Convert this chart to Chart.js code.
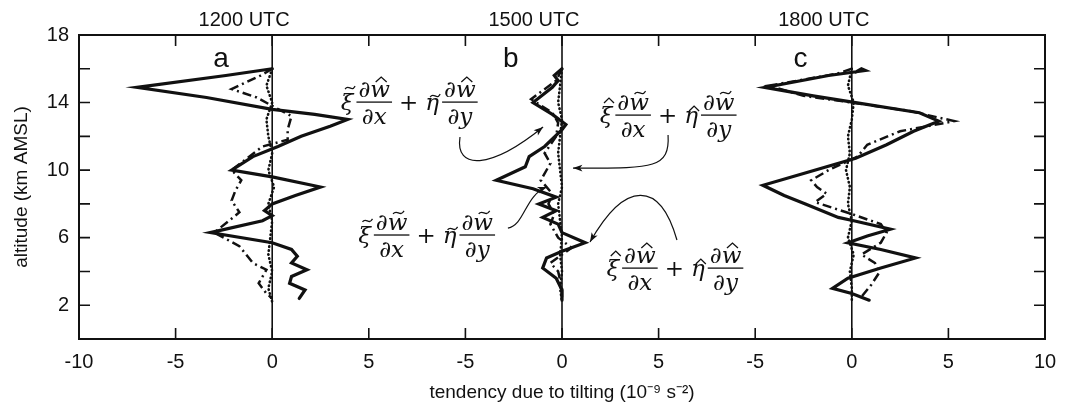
<!DOCTYPE html>
<html>
<head>
<meta charset="utf-8">
<script src="https://cdn.jsdelivr.net/npm/chart.js@4.4.1/dist/chart.umd.min.js"></script>
<style>
  html, body { margin: 0; background: #fff; }
  #wrap { width: 1070px; height: 408px; }
</style>
</head>
<body>
<div id="wrap"><canvas id="chart" width="1070" height="408"></canvas></div>
<script>
// tick labels along the shared x axis (three panels side by side)
const xTickLabels = ["-10", "-5", "0", "5", "-5", "0", "5", "-5", "0", "5", "10"];
const yTickLabels = [2, 6, 10, 14, 18];
const panelTitles = ["1200 UTC", "1500 UTC", "1800 UTC"];
const panelLetters = ["a", "b", "c"];
const panelOffsets = [0, 15, 30];

// panel a (1200 UTC)
const altSolidA = [16.0, 15.6, 14.9, 14.3, 13.6, 13.3, 13.0, 12.6, 12.0, 11.4, 10.8, 10.0, 9.6, 9.0, 8.5, 8.0, 7.6, 7.3, 7.0, 6.3, 5.7, 5.3, 4.9, 4.5, 4.1, 3.7, 3.3, 2.9, 2.4];
const solidA = [0.0, -2.4, -7.0, -3.4, 0.0, 2.2, 3.9, 3.0, 1.5, 0.3, -1.0, -2.1, 0.0, 2.5, 1.2, 0.0, -0.4, 0.0, -0.5, -3.2, 0.0, 1.0, 1.3, 1.0, 1.8, 1.0, 0.9, 1.7, 1.4];
const altDashA = [16.0, 15.6, 14.8, 14.3, 13.8, 13.2, 12.4, 11.8, 11.4, 10.0, 9.4, 8.8, 8.2, 7.5, 6.3, 5.5, 4.5, 4.1, 3.3, 2.7, 2.4];
const dashA = [0.0, -0.6, -2.1, -0.8, 0.0, 1.0, 0.8, 0.8, -0.5, -2.1, -1.6, -1.9, -2.1, -1.7, -3.0, -1.7, -1.0, -0.3, -0.7, -0.3, 0.0];
const altDotA = [16.0, 15.0, 14.0, 13.0, 12.0, 11.0, 10.0, 9.0, 8.0, 7.0, 6.0, 5.0, 4.0, 3.0, 2.2];
const dotA = [0.0, -0.3, 0.0, -0.3, -0.2, 0.0, -0.2, 0.1, -0.2, 0.0, -0.1, -0.2, 0.0, -0.2, 0.0];

// panel b (1500 UTC)
const altSolidB = [16.0, 15.6, 15.3, 14.9, 14.0, 13.3, 12.7, 12.4, 11.4, 10.8, 10.2, 9.4, 8.9, 8.4, 8.0, 7.6, 7.2, 6.8, 6.3, 5.7, 5.2, 4.8, 4.2, 3.6, 2.9, 2.3];
const solidB = [0.0, -0.4, -0.2, -0.5, -1.5, -0.5, 0.2, 0.0, -0.9, -1.7, -1.9, -3.4, -1.5, -0.3, -1.2, -0.3, -1.0, -0.2, 0.0, 1.2, 0.0, -0.8, -1.0, -0.3, 0.0, 0.0];
const altDashB = [16.0, 15.3, 14.2, 13.4, 12.8, 12.0, 11.0, 10.4, 9.4, 8.6, 8.0, 7.4, 6.8, 6.0, 5.4, 4.5, 4.0, 3.0, 2.3];
const dashB = [0.0, -0.3, -1.6, -0.5, -0.2, -0.3, -0.9, -0.6, -1.1, -0.5, -0.7, -0.4, -0.6, -0.2, 0.5, -0.6, -0.2, 0.0, 0.0];
const altDotB = [16.0, 15.0, 14.0, 13.0, 12.0, 11.0, 10.0, 9.0, 8.0, 7.0, 6.0, 5.0, 4.0, 3.0, 2.2];
const dotB = [0.0, -0.1, -0.2, 0.0, -0.1, -0.2, -0.1, 0.0, -0.2, -0.1, 0.0, -0.1, 0.0, -0.1, 0.0];

// panel c (1800 UTC)
const altSolidC = [15.8, 16.0, 15.9, 15.6, 14.9, 14.4, 14.0, 13.4, 12.9, 12.3, 11.5, 10.7, 9.8, 9.1, 8.5, 8.0, 7.2, 7.0, 6.5, 6.1, 5.7, 5.3, 4.8, 4.2, 3.6, 3.0, 2.7, 2.3];
const solidC = [0.2, 0.5, 0.7, -1.2, -4.5, -2.0, 0.2, 3.5, 4.5, 3.2, 1.8, 0.2, -2.5, -4.6, -3.5, -2.4, -0.7, 0.1, 2.0, 0.8, -0.2, 1.5, 3.3, 1.5, -0.2, -1.0, 0.0, 0.9];
const altDashC = [16.0, 15.7, 15.0, 14.4, 14.0, 13.5, 12.9, 12.3, 11.5, 10.8, 10.0, 9.4, 9.0, 8.6, 8.1, 7.4, 6.8, 6.3, 5.7, 5.0, 4.5, 3.9, 3.2, 2.5];
const dashC = [0.0, -0.8, -4.3, -2.5, 0.0, 3.0, 5.3, 2.5, 0.8, 0.3, -1.2, -2.1, -1.8, -1.3, -1.9, 0.0, 1.5, 1.8, 1.5, 0.5, 1.2, 1.4, 1.0, 0.5];
const altDotC = [16.0, 15.0, 14.0, 13.0, 12.0, 11.0, 10.0, 9.0, 8.0, 7.0, 6.0, 5.0, 4.0, 3.0, 2.2];
const dotC = [0.0, -0.2, 0.1, 0.0, -0.2, -0.1, -0.3, -0.1, -0.2, 0.0, -0.2, 0.1, -0.1, 0.0, 0.0];

const INK = "#111";
const SANS = '"Liberation Sans", Arial, sans-serif';
const SERIF = '"DejaVu Serif", "Liberation Serif", serif';

const lineStyles = {
  solid: { borderWidth: 3.2, borderDash: [], borderCapStyle: "round" },
  dash: { borderWidth: 2.5, borderDash: [9, 4, 2, 4], borderCapStyle: "butt" },
  dot: { borderWidth: 2.6, borderDash: [0.5, 3.5], borderCapStyle: "round" },
};

function series(alts, vals, offset, style) {
  return Object.assign({
    data: alts.map((a, i) => ({ x: vals[i] + offset, y: a })),
    showLine: true,
    borderColor: INK,
    pointRadius: 0,
    tension: 0,
    fill: false,
  }, lineStyles[style]);
}

const datasets = [
  series(altDotA, dotA, panelOffsets[0], "dot"),
  series(altDashA, dashA, panelOffsets[0], "dash"),
  series(altSolidA, solidA, panelOffsets[0], "solid"),
  series(altDotB, dotB, panelOffsets[1], "dot"),
  series(altDashB, dashB, panelOffsets[1], "dash"),
  series(altSolidB, solidB, panelOffsets[1], "solid"),
  series(altDotC, dotC, panelOffsets[2], "dot"),
  series(altDashC, dashC, panelOffsets[2], "dash"),
  series(altSolidC, solidC, panelOffsets[2], "solid"),
];

// annotation terms: [x (axis units), altitude of fraction bar, accent on xi/eta, accent on w]
const terms = [
  [3.55, 14.03, "tilde", "hat"],
  [4.45, 6.16, "tilde", "tilde"],
  [16.95, 13.26, "hat", "tilde"],
  [17.3, 4.2, "hat", "hat"],
];
// arrows: bezier start, control 1, control 2, end (axis units, km)
const arrows = [
  [[9.72, 11.96], [9.46, 10.0], [11.27, 10.0], [14.02, 12.55]],
  [[12.2, 6.57], [13.08, 6.75], [13.08, 8.53], [14.22, 9.0]],
  [[20.49, 12.08], [20.6, 10.0], [19.55, 10.12], [15.57, 10.12]],
  [[20.95, 5.86], [20.07, 9.41], [18.26, 9.41], [16.45, 5.74]],
];

function accent(ctx, kind, cx, cy, w) {
  ctx.save();
  ctx.lineWidth = 1.3;
  ctx.beginPath();
  if (kind === "hat") {
    ctx.moveTo(cx - w / 2, cy + 2);
    ctx.lineTo(cx, cy - 3);
    ctx.lineTo(cx + w / 2, cy + 2);
  } else {
    ctx.moveTo(cx - w / 2, cy + 1);
    ctx.bezierCurveTo(cx - w / 4, cy - 3, cx, cy + 1, cx + w / 4, cy + 0.5);
    ctx.bezierCurveTo(cx + w / 3, cy + 0.5, cx + w / 2.3, cy - 1, cx + w / 2, cy - 2);
  }
  ctx.stroke();
  ctx.restore();
}

function drawTerm(ctx, x, y, accSym, accW) {
  const it = "italic 23px " + SERIF;
  const up = "23px " + SERIF;
  let cx = x;
  ctx.fillStyle = INK;
  ctx.strokeStyle = INK;
  ctx.textAlign = "left";
  ctx.textBaseline = "alphabetic";
  // rise: how high the accent sits above the fraction bar for this glyph
  const sym = (ch, rise) => {
    ctx.font = it;
    const w = ctx.measureText(ch).width;
    ctx.fillText(ch, cx, y + 8);
    accent(ctx, accSym, cx + w / 2 + 3, y - rise, 10);
    cx += w + 3;
  };
  const frac = (v) => {
    ctx.font = it;
    const wn = ctx.measureText("∂w").width;
    const wd = ctx.measureText("∂" + v).width;
    const bw = Math.max(wn, wd) + 4;
    const nx = cx + (bw - wn) / 2;
    ctx.fillText("∂w", nx, y - 5);
    const wp = ctx.measureText("∂").width;
    const ww = ctx.measureText("w").width;
    accent(ctx, accW, nx + wp + ww / 2 + 1, y - 22, 11);
    ctx.fillRect(cx, y - 0.6, bw, 1.3);
    ctx.fillText("∂" + v, cx + (bw - wd) / 2, y + 22);
    cx += bw;
  };
  sym("ξ", 14);
  frac("x");
  ctx.font = up;
  cx += 7;
  ctx.fillText("+", cx, y + 8);
  cx += ctx.measureText("+").width + 7;
  sym("η", 6);
  frac("y");
}

const decor = {
  id: "decor",
  beforeDatasetsDraw(chart) {
    const { ctx, chartArea: a, scales: { x } } = chart;
    ctx.save();
    ctx.strokeStyle = INK;
    ctx.lineWidth = 1.6;
    panelOffsets.forEach((o) => {
      const px = x.getPixelForValue(o);
      ctx.beginPath();
      ctx.moveTo(px, a.top);
      ctx.lineTo(px, a.bottom);
      ctx.stroke();
    });
    ctx.restore();
  },
  afterDraw(chart) {
    const { ctx, chartArea: a, scales: { x, y } } = chart;
    ctx.save();
    ctx.strokeStyle = INK;
    ctx.fillStyle = INK;
    // frame
    ctx.lineWidth = 2;
    ctx.strokeRect(a.left, a.top, a.right - a.left, a.bottom - a.top);
    // inward tick marks
    ctx.lineWidth = 1.6;
    ctx.beginPath();
    for (let v = 2; v < 18; v += 2) {
      const py = y.getPixelForValue(v);
      ctx.moveTo(a.left, py); ctx.lineTo(a.left + 11, py);
      ctx.moveTo(a.right, py); ctx.lineTo(a.right - 11, py);
    }
    for (let v = -5; v < 40; v += 5) {
      const px = x.getPixelForValue(v);
      ctx.moveTo(px, a.top); ctx.lineTo(px, a.top + 11);
      ctx.moveTo(px, a.bottom); ctx.lineTo(px, a.bottom - 11);
    }
    ctx.stroke();
    // panel titles and letters
    ctx.textAlign = "center";
    ctx.textBaseline = "middle";
    panelOffsets.forEach((o, i) => {
      ctx.font = "20px " + SANS;
      ctx.fillText(panelTitles[i], x.getPixelForValue(o - 1.45), a.top - 15);
      ctx.font = "28px " + SANS;
      ctx.fillText(panelLetters[i], x.getPixelForValue(o - 2.65), y.getPixelForValue(16.55));
    });
    // math annotations
    terms.forEach(([u, alt, s, w]) => drawTerm(ctx, x.getPixelForValue(u), y.getPixelForValue(alt), s, w));
    // arrows
    ctx.lineWidth = 1.2;
    arrows.forEach((pts) => {
      const p = pts.map(([u, alt]) => [x.getPixelForValue(u), y.getPixelForValue(alt)]);
      ctx.beginPath();
      ctx.moveTo(p[0][0], p[0][1]);
      ctx.bezierCurveTo(p[1][0], p[1][1], p[2][0], p[2][1], p[3][0], p[3][1]);
      ctx.stroke();
      const ang = Math.atan2(p[3][1] - p[2][1], p[3][0] - p[2][0]);
      const L = 10, W = 0.35;
      ctx.beginPath();
      ctx.moveTo(p[3][0], p[3][1]);
      ctx.lineTo(p[3][0] - L * Math.cos(ang - W), p[3][1] - L * Math.sin(ang - W));
      ctx.lineTo(p[3][0] - L * 0.7 * Math.cos(ang), p[3][1] - L * 0.7 * Math.sin(ang));
      ctx.lineTo(p[3][0] - L * Math.cos(ang + W), p[3][1] - L * Math.sin(ang + W));
      ctx.closePath();
      ctx.fill();
    });
    ctx.restore();
  },
};

new Chart(document.getElementById("chart").getContext("2d"), {
  type: "scatter",
  data: { datasets },
  options: {
    responsive: false,
    animation: false,
    layout: { padding: { top: 35, right: 25, left: 0, bottom: 0 } },
    plugins: { legend: { display: false }, tooltip: { enabled: false } },
    scales: {
      x: {
        type: "linear",
        min: -10,
        max: 40,
        afterFit: (s) => { s.height = 69; },
        grid: { display: false },
        border: { display: false },
        ticks: {
          stepSize: 5,
          autoSkip: false,
          maxRotation: 0,
          padding: 3,
          color: INK,
          font: { family: SANS, size: 20 },
          callback: (v) => xTickLabels[Math.round((v + 10) / 5)],
        },
        title: {
          display: true,
          text: "tendency due to tilting (10⁻⁹ s⁻²)",
          color: INK,
          font: { family: SANS, size: 19 },
          padding: { top: 0, bottom: 4 },
        },
      },
      y: {
        min: 0,
        max: 18,
        afterFit: (s) => { s.width = 79; },
        grid: { display: false },
        border: { display: false },
        ticks: {
          stepSize: 2,
          padding: 2,
          color: INK,
          font: { family: SANS, size: 20 },
          callback: (v) => (yTickLabels.includes(v) ? String(v) : ""),
        },
        title: {
          display: true,
          text: "altitude (km AMSL)",
          color: INK,
          font: { family: SANS, size: 19 },
          padding: { top: 10, bottom: 0 },
        },
      },
    },
  },
  plugins: [decor],
});
</script>
</body>
</html>
